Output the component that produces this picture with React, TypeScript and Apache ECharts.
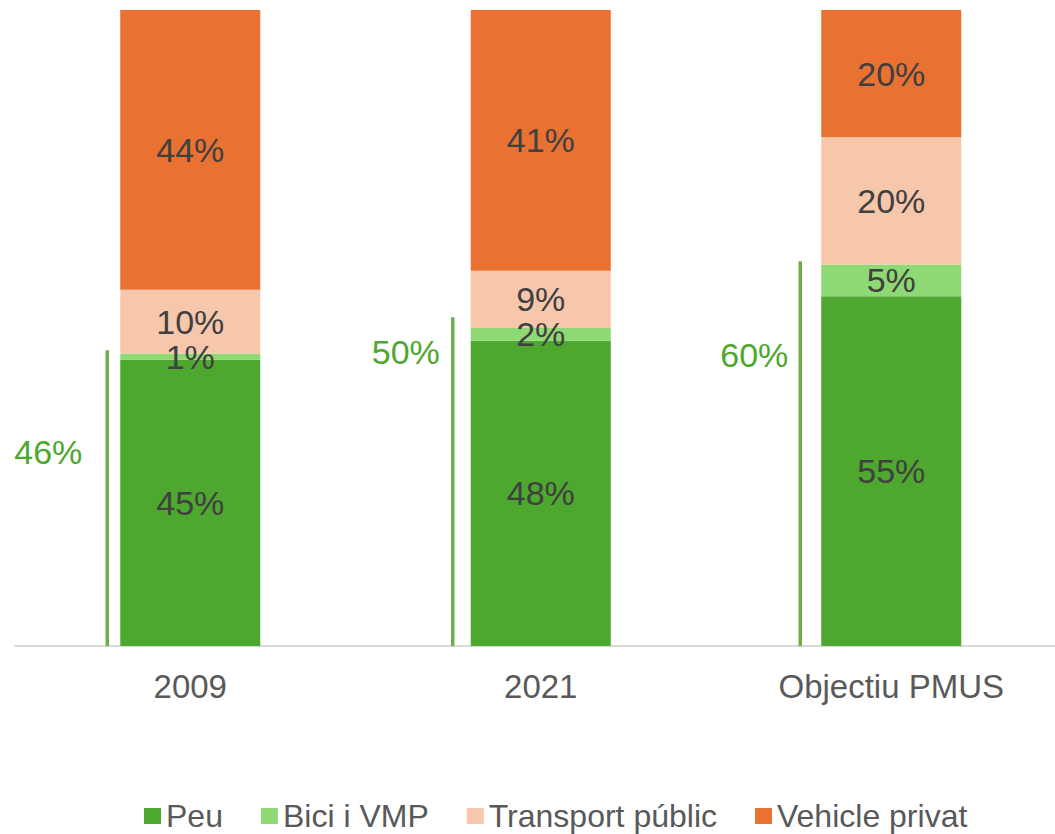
import React, { useEffect, useRef } from 'react';
import * as echarts from 'echarts';

const categories = ['2009', '2021', 'Objectiu PMUS'];
const seriesNames = ['Peu', 'Bici i VMP', 'Transport públic', 'Vehicle privat'];
const peu = [45, 48, 55];
const bici = [1, 2, 5];
const transport = [10, 9, 20];
const vehicle = [44, 41, 20];
// sustainable share (Peu + Bici) shown beside each bar
const sustainableTotals = [46, 50, 60];
// heights of the green brackets as drawn in the picture
const bracketTops = [46.5, 51.7, 60.5];
// level at which each bracket label sits
const bracketLabelLevels = [30.5, 46.2, 45.8];

const colors = ['#4ea72e', '#8ed973', '#f7c7ac', '#e97132'];
const FONT = '"Liberation Sans", Arial, sans-serif';

export default function App() {
  const ref = useRef<HTMLDivElement>(null);
  useEffect(() => {
    if (!ref.current) return;
    const chart = echarts.init(ref.current, undefined, { renderer: 'svg' });
    const values = [peu, bici, transport, vehicle];
    const lineOffsets = [-83, -88, -91];
    const labelOffsets = [-142, -135, -137];
    const barSeries = seriesNames.map((name, k) => ({
      name,
      type: 'bar',
      stack: 'total',
      barWidth: 140,
      data: values[k],
      itemStyle: { color: colors[k] },
      label: {
        show: true,
        position: 'inside',
        formatter: '{c}%',
        color: '#404040',
        fontSize: 34,
        fontFamily: FONT,
      },
      emphasis: { disabled: true },
    }));
    const bracketData = categories.map((_, i) => [i, bracketTops[i], bracketLabelLevels[i], sustainableTotals[i]]);
    chart.setOption({
      animation: false,
      grid: { left: 15, right: 0.5, top: 10, bottom: 188, containLabel: false },
      legend: {
        data: seriesNames,
        left: 139,
        top: 795,
        icon: 'rect',
        itemWidth: 17,
        itemHeight: 16,
        itemGap: 38,
        textStyle: { fontSize: 32, color: '#595959', fontFamily: FONT, padding: [0, 0, 32, 0] },
        selectedMode: false,
      },
      xAxis: {
        type: 'category',
        data: categories,
        axisLine: { show: true, lineStyle: { color: '#d9d9d9', width: 2 } },
        axisTick: { show: false },
        axisLabel: { color: '#595959', fontSize: 33, fontFamily: FONT, margin: 24 },
      },
      yAxis: {
        type: 'value',
        min: 0,
        max: 100,
        show: false,
        splitLine: { show: false },
      },
      series: [
        ...barSeries,
        {
          name: 'Sostenible',
          type: 'custom',
          clip: false,
          z: 5,
          data: bracketData,
          encode: { x: 0, y: 1 },
          renderItem: (params: any, api: any) => {
            const i = api.value(0);
            const top = api.coord([i, api.value(1)]);
            const base = api.coord([i, 0]);
            const lab = api.coord([i, api.value(2)]);
            const lo = lineOffsets[i] ?? -87;
            const to = labelOffsets[i] ?? -138;
            return {
              type: 'group',
              children: [
                {
                  type: 'line',
                  shape: { x1: top[0] + lo, y1: top[1], x2: top[0] + lo, y2: base[1] },
                  style: { stroke: '#70ad47', lineWidth: 3.5 },
                },
                {
                  type: 'text',
                  x: lab[0] + to,
                  y: lab[1],
                  style: {
                    text: api.value(3) + '%',
                    fill: '#4ea72e',
                    fontSize: 34,
                    fontFamily: FONT,
                    align: 'center',
                    verticalAlign: 'middle',
                  },
                },
              ],
            };
          },
        },
      ],
    });
    return () => chart.dispose();
  }, []);
  return (
    <div style={{ position: 'fixed', left: 0, top: 0, width: 1055, height: 834, overflow: 'hidden', background: '#fff' }}>
      <div ref={ref} style={{ width: 1067, height: 834 }} />
    </div>
  );
}
